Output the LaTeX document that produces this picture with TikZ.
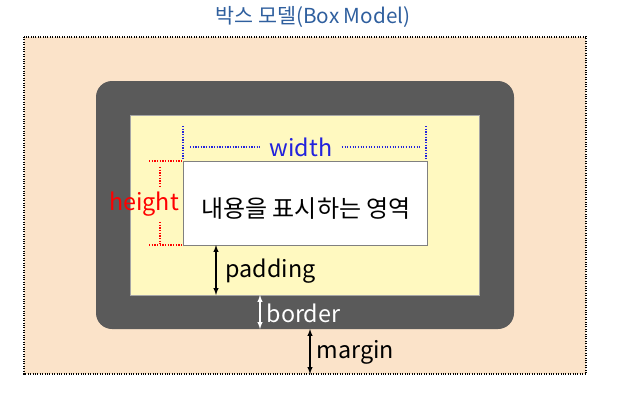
\documentclass[tikz,border=0pt]{standalone}
\usepackage{fontspec}
\setmainfont{Noto Sans CJK KR}
\usetikzlibrary{arrows}
\definecolor{marginclr}{HTML}{FBE3C9}
\definecolor{borderclr}{HTML}{5A5A5A}
\definecolor{paddingclr}{HTML}{FFF9C0}
\definecolor{titleclr}{HTML}{2F5F9E}
\definecolor{widthclr}{HTML}{2222DD}
\begin{document}
\begin{tikzpicture}[>=latex,x=0.75pt,y=-0.75pt]
        \useasboundingbox (0,0) rectangle (621,407);
        \tikzset{lbl/.style={font=\fontsize{17.5}{20}\selectfont, inner sep=1pt},
                 dimline/.style={line width=0.9pt, dash pattern=on 0.9pt off 1.1pt}}

        % title
        \node[titleclr, font=\fontsize{15.5}{18}\selectfont] (title) at (313,17) {박스 모델(Box Model)};

        % boxes
        \fill[marginclr] (24,37) rectangle (586,374);
        \draw[densely dotted, thick] (24,37) rectangle (586,374);
        \fill[borderclr, rounded corners=12pt] (96,81) rectangle (514,329);
        \draw[paddingclr, fill=paddingclr] (130,115) rectangle (479,295);
        \draw[gray!70] (130,115) rectangle (479,295);
        \draw[gray, fill=white] (183,161) rectangle (427,245);
        \node[font=\fontsize{18}{21}\selectfont] (content) at (306,209) {내용을 표시하는 영역};

        % width
        \draw[widthclr, dimline] (183,126) -- (183,160);
        \draw[widthclr, dimline] (426,126) -- (426,160);
        \node[lbl, widthclr, inner sep=7pt] (width) at (301,147) {width};
        \coordinate (wl) at (190,147);
        \coordinate (wr) at (421,147);
        \draw[widthclr, dimline] (wl) -- (wl -| width.west);
        \draw[widthclr, dimline] (wr -| width.east) -- (wr);

        % height
        \draw[red, dimline] (149,161) -- (182,161);
        \draw[red, dimline] (149,245) -- (182,245);
        \node[lbl, red] (height) at (144,204) {height};
        \coordinate (ht) at (160,167);
        \coordinate (hb) at (160,244);
        \draw[red, dimline] (ht) -- (160,188);
        \draw[red, dimline] (160,222) -- (hb);

        % padding, border, margin
        \coordinate (pt) at (216,245);
        \coordinate (pb) at (216,295);
        \draw[<->, thick] (pt) -- (pb);
        \node[lbl, anchor=west] (padding) at (224,271) {padding};

        \coordinate (bt) at (260,295);
        \coordinate (bb) at (260,329);
        \draw[<->, thick, white] (bt) -- (bb);
        \node[lbl, anchor=west, white] (border) at (265,313) {border};

        \coordinate (mt) at (310,329);
        \coordinate (mb) at (310,374);
        \draw[<->, thick] (mt) -- (mb);
        \node[lbl, anchor=west] (margin) at (315,352) {margin};
    \end{tikzpicture}
\end{document}
